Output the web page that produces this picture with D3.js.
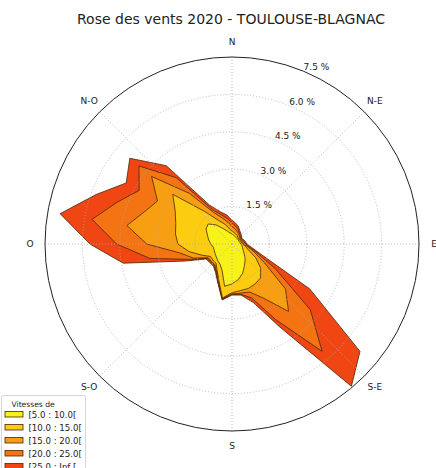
<!DOCTYPE html>
<html><head><meta charset="utf-8">
<script src="https://cdn.jsdelivr.net/npm/d3@7"></script>
<style>body{margin:0;background:#fff} svg{display:block} text{font-family:"DejaVu Sans",sans-serif;fill:#222}</style>
</head><body><svg id="c" width="436" height="468"></svg>
<script>
// Directions (degrees, clockwise from North)
const directions=[0,10,20,30,40,50,60,70,80,90,100,110,120,130,140,150,160,170,180,190,200,210,220,230,240,250,260,270,280,290,300,310,320,330,340,350];
// Cumulative frequencies (%) per speed class
const cum_5_10 =[0.40,0.36,0.33,0.31,0.30,0.30,0.30,0.30,0.32,0.36,0.40,0.45,0.52,0.65,0.82,1.00,1.25,1.45,1.60,1.72,1.15,0.95,0.88,0.82,0.78,0.76,0.76,0.85,0.95,1.05,1.20,1.25,1.00,0.72,0.55,0.45];
const cum_10_15=[0.52,0.47,0.43,0.40,0.36,0.34,0.34,0.36,0.38,0.42,0.55,0.70,1.10,1.50,1.78,1.85,1.90,1.90,1.95,2.20,1.55,1.20,1.00,1.00,1.00,1.30,1.75,2.17,2.30,2.40,2.63,3.10,1.70,1.10,0.85,0.62];
const cum_15_20=[0.70,0.62,0.56,0.50,0.45,0.40,0.38,0.40,0.43,0.48,0.65,0.95,1.50,2.80,3.53,2.50,2.05,2.00,2.00,2.22,1.60,1.25,1.08,1.08,1.10,1.65,2.10,3.42,4.28,3.75,3.45,4.21,2.65,1.45,1.10,0.88];
const cum_20_25=[0.85,0.74,0.66,0.56,0.50,0.45,0.42,0.45,0.50,0.55,0.72,1.10,2.03,4.10,5.62,3.50,2.30,2.05,2.02,2.25,1.63,1.28,1.12,1.12,1.15,1.80,3.34,4.63,5.70,4.90,4.30,4.87,3.47,1.60,1.25,1.03];
const cum_25_inf=[0.95,0.85,0.75,0.62,0.55,0.50,0.45,0.50,0.55,0.60,0.80,1.27,3.60,6.70,7.45,3.85,2.50,2.08,2.05,2.28,1.66,1.32,1.16,1.16,1.20,2.00,4.43,5.70,7.00,5.80,4.90,5.35,4.10,1.80,1.38,1.18];
const classLabels=["[5.0 : 10.0[","[10.0 : 15.0[","[15.0 : 20.0[","[20.0 : 25.0[","[25.0 : Inf ["];
const classColors=["#f7f21a","#fccc10","#f89e12","#f47414","#ef4614"];
const radialTicks=[1.5,3.0,4.5,6.0,7.5];
const compassLabels=["N","N-E","E","S-E","S","S-O","O","N-O"];
const compassAngles=[0,45,90,135,180,225,270,315];
const title="Rose des vents 2020 - TOULOUSE-BLAGNAC";

const svg=d3.select("#c");
const cx=232, cy=244, R=187;
const r=d3.scaleLinear().domain([0,7.5]).range([0,R]);
const ang=d=>d*Math.PI/180;
const g=svg.append("g").attr("transform",`translate(${cx},${cy})`);

const series=[cum_5_10,cum_10_15,cum_15_20,cum_20_25,cum_25_inf];
const line=d3.lineRadial().angle((d,i)=>ang(directions[i])).radius(d=>r(d)).curve(d3.curveLinearClosed);

// polygons, outer first
for(let k=series.length-1;k>=0;k--){
  g.append("path").attr("d",line(series[k]))
   .attr("fill",classColors[k]).attr("stroke","#4a2608").attr("stroke-width",0.8).attr("stroke-linejoin","round");
}

// grid
const inner=radialTicks.slice(0,-1);
g.selectAll("circle.grid").data(inner).enter().append("circle")
 .attr("r",d=>r(d)).attr("fill","none").attr("stroke","#aaaaaa").attr("stroke-width",0.8).attr("stroke-dasharray","1,2");
g.selectAll("line.spoke").data(compassAngles).enter().append("line")
 .attr("x1",0).attr("y1",0)
 .attr("x2",d=>r(7.5)*Math.sin(ang(d))).attr("y2",d=>-r(7.5)*Math.cos(ang(d)))
 .attr("stroke","#aaaaaa").attr("stroke-width",0.8).attr("stroke-dasharray","1,2");
g.append("circle").attr("r",r(7.5)).attr("fill","none").attr("stroke","#222").attr("stroke-width",1);

// radial tick labels
g.selectAll("text.rt").data(radialTicks).enter().append("text")
 .attr("x",d=>r(d)*Math.sin(ang(22.5))).attr("y",d=>-r(d)*Math.cos(ang(22.5))-1)
 .attr("font-size",9).attr("text-anchor","start").text(d=>d.toFixed(1)+" %");

// compass labels
g.selectAll("text.cp").data(compassLabels).enter().append("text")
 .attr("x",(d,i)=>202*Math.sin(ang(compassAngles[i]))).attr("y",(d,i)=>-202*Math.cos(ang(compassAngles[i])))
 .attr("font-size",9).attr("text-anchor","middle").attr("dominant-baseline","central").text(d=>d);

// title
svg.append("text").attr("x",231).attr("y",24).attr("text-anchor","middle").attr("font-size",14).text(title);

// legend
const lg=svg.append("g");
lg.append("rect").attr("x",1.5).attr("y",395.5).attr("width",84).attr("height",90).attr("rx",2)
  .attr("fill","#fff").attr("fill-opacity",0.85).attr("stroke","#cccccc").attr("stroke-width",0.8);
lg.append("text").attr("x",11.5).attr("y",406.5).attr("font-size",7.6).text("Vitesses de");
classLabels.forEach((lab,i)=>{
  const y=411.5+i*13;
  lg.append("rect").attr("x",5).attr("y",y).attr("width",18).attr("height",5.5)
    .attr("fill",classColors[i]).attr("stroke","#4a2608").attr("stroke-width",0.8);
  lg.append("text").attr("x",28.5).attr("y",y+6.5).attr("font-size",8.6).text(lab);
});
</script></body></html>
